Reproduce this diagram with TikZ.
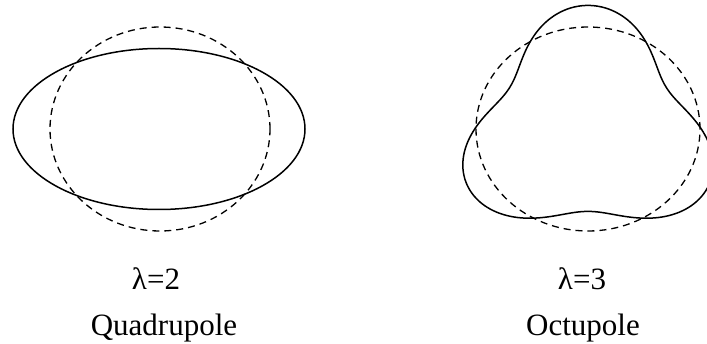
\documentclass[tikz,border=0pt]{standalone}
\usepackage{fontspec}
\setmainfont{Liberation Serif}
\begin{document}
\begin{tikzpicture}[x=1pt, y=1pt,
    ref/.style={line width=1.3pt, dash pattern=on 7pt off 5pt},
    deformed/.style={line width=1.5pt},
    lbl/.style={font=\fontsize{31}{36}\selectfont, anchor=base, inner sep=0pt}]
    \useasboundingbox (0, 0) rectangle (707, 343);

    % left: quadrupole
    \begin{scope}
        \draw[ref] (160, 214) ellipse [x radius=110, y radius=102];
        \draw[deformed] (159, 214) ellipse [x radius=146, y radius=80.5];
        \node[lbl] (lamtwo) at (156, 53) {λ=2};
        \node[lbl] (quad) at (164, 8) {Quadrupole};
    \end{scope}

    % right: octupole
    \begin{scope}[xshift=588pt, yshift=214pt]
        \draw[ref] (0, 0) ellipse [x radius=112, y radius=102];
        \draw[deformed] plot[smooth cycle, domain=0:357, samples=120]
            ({1.1*103*(1 + 0.2*cos(3*(\x - 90)))*cos(\x)},
             {103*(1 + 0.2*cos(3*(\x - 90)))*sin(\x)});
        \node[lbl] (lamthree) at (-6, -161) {λ=3};
        \node[lbl] (octu) at (-5, -206) {Octupole};
    \end{scope}
\end{tikzpicture}
\end{document}
